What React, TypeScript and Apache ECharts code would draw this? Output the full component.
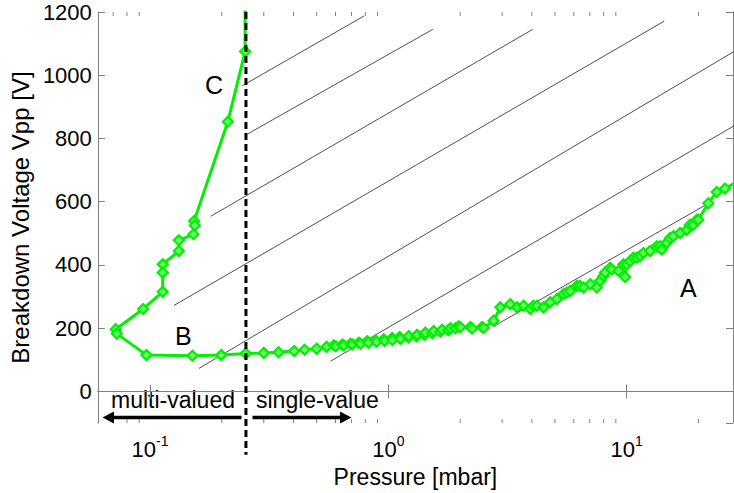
import React, { useEffect, useRef } from "react";
import * as echarts from "echarts";

// ---- data ----
// Measured breakdown curve (C branch -> B -> A), pressure in mbar, voltage in V
const pressure = [
  0.2505, 0.2505, 0.212, 0.153, 0.154, 0.152, 0.132, 0.132, 0.113, 0.113, 0.113,
  0.0935, 0.0718, 0.0725, 0.0966, 0.1506, 0.199, 0.252, 0.3, 0.346, 0.402,
  0.445, 0.5, 0.55, 0.59, 0.602, 0.64, 0.65, 0.693, 0.705, 0.751, 0.764,
  0.815, 0.825, 0.883, 0.891, 0.956, 0.963, 1.037, 1.04, 1.115, 1.123,
  1.213, 1.217, 1.311, 1.32, 1.416, 1.43, 1.53, 1.549, 1.652, 1.68, 1.785,
  1.82, 1.91, 1.97, 2.004, 2.207, 2.244, 2.47, 2.509, 2.764, 2.948, 3.246,
  3.464, 3.691, 3.937, 4.06, 4.201, 4.477, 4.775, 5.094, 5.43, 5.61, 5.79,
  6.18, 6.36, 6.59, 7.03, 7.49, 7.74, 7.99, 8.12, 8.52, 8.66, 9.23, 9.69,
  9.85, 10.01, 10.33, 10.67, 11.02, 11.38, 11.75, 12.53, 13.37, 13.8, 14.03,
  14.72, 15.2, 15.69, 16.74, 17.86, 18.44, 19.03, 19.67, 19.97, 21.99, 23.85,
  25.84, 28.0,
];
const voltage = [
  1300, 1075, 853, 539, 525, 497, 478, 444, 402, 376, 315,
  261, 197, 183, 115, 113, 115, 120, 122, 124, 128,
  132, 135, 141, 146, 143, 148, 146, 151, 149, 154, 151,
  159, 154, 162, 157, 165, 160, 169, 163, 172, 167,
  171, 175, 175, 179, 179, 186, 184, 191, 189, 195, 194,
  200, 200, 206, 203, 204, 199, 204, 201, 224, 266, 276,
  266, 271, 261, 271, 271, 266, 282, 292, 308, 313, 318,
  334, 334, 329, 339, 329, 350, 365, 376, 391, 386, 381, 402,
  362, 402, 412, 423, 423, 428, 438, 444, 459, 459, 449,
  470, 485, 491, 501, 511, 527, 527, 543, 543, 595, 631,
  642, 657,
];

// Diagonal guide lines: start (pressure, voltage) and end (pressure, voltage)
const hatchStartP = [0.244, 0.256, 0.1797, 0.126, 0.1604, 0.572, 2.765];
const hatchStartV = [967, 814, 554, 272, 73, 96, 206];
const hatchEndP = [0.789, 1.535, 4.03, 14.36, 28.2, 28.2, 22.03];
const hatchEndV = [1187, 1145, 1145, 1171, 1075, 840, 595];

// Vertical boundary between multi-valued and single-valued regions
const boundaryP = 0.2525;
const boundaryV = [1200, -200];

// Axis ranges and ticks
const X_MIN = 0.06037;
const X_MAX = 27.92;
const Y_MIN = -100;
const Y_MAX = 1200;
const minorTicks = [
  0.07, 0.08, 0.09, 0.2, 0.3, 0.4, 0.5, 0.6, 0.7, 0.8, 0.9,
  2, 3, 4, 5, 6, 7, 8, 9, 20,
];

const FONT = "'Liberation Sans', Arial, Helvetica, sans-serif";
const AXIS_GRAY = "#808080";

export default function App() {
  const ref = useRef<HTMLDivElement>(null);

  useEffect(() => {
    if (!ref.current) return;
    const chart = echarts.init(ref.current, undefined, { renderer: "svg" });

    const mainData = pressure.map((p, i) => [p, voltage[i]]);

    const hatchSeries = hatchStartP.map((p, i) => ({
      type: "line",
      xAxisIndex: 0,
      yAxisIndex: 0,
      data: [
        [p, hatchStartV[i]],
        [hatchEndP[i], hatchEndV[i]],
      ],
      symbol: "none",
      silent: true,
      clip: true,
      lineStyle: { color: "#222", width: 0.8 },
      z: 2,
    }));

    const xTickBase = {
      type: "log",
      logBase: 10,
      min: X_MIN,
      max: X_MAX,
      splitLine: { show: false },
      axisLine: { show: true, lineStyle: { color: AXIS_GRAY, width: 1 } },
      axisTick: { show: true, inside: true, length: 7, lineStyle: { color: AXIS_GRAY, width: 1 } },
      minorTick: { show: false },
    };
    const yBase = {
      type: "value",
      min: Y_MIN,
      max: Y_MAX,
      splitNumber: 6,
      minInterval: 200,
      maxInterval: 200,
      splitLine: { show: false },
      axisLine: { show: true, lineStyle: { color: AXIS_GRAY, width: 1 } },
      axisTick: { show: true, inside: true, length: 7, lineStyle: { color: AXIS_GRAY, width: 1 } },
    };

    const option = {
      animation: false,
      backgroundColor: "#fff",
      textStyle: { fontFamily: FONT },
      grid: { left: 97, right: 1, top: 12, bottom: 66, containLabel: false },
      xAxis: [
        {
          ...xTickBase,
          position: "bottom",
          name: "Pressure [mbar]",
          nameLocation: "middle",
          nameGap: 28,
          nameTextStyle: { fontSize: 23, color: "#000", fontFamily: FONT },
          axisLabel: {
            show: true,
            margin: 11,
            fontSize: 22,
            showMinLabel: false,
            showMaxLabel: false,
            formatter: (v: number) => `{b|10}{s|${Math.round(Math.log10(v))}}`,
            rich: {
              b: { fontSize: 22, lineHeight: 30, color: "#000", fontFamily: FONT },
              s: { fontSize: 14, lineHeight: 14, verticalAlign: "top", color: "#000", fontFamily: FONT },
            },
          },
        },
        {
          ...xTickBase,
          position: "top",
          axisLabel: { show: false },
        },
      ],
      yAxis: [
        {
          ...yBase,
          position: "left",
          name: "Breakdown Voltage Vpp [V]",
          nameLocation: "middle",
          nameGap: 53,
          nameRotate: 90,
          nameTextStyle: { fontSize: 24, color: "#000", fontFamily: FONT },
          axisLabel: {
            show: true,
            margin: 6,
            showMinLabel: false,
            fontSize: 22,
            color: "#000",
            fontFamily: FONT,
            formatter: (v: number) => String(v),
          },
        },
        {
          ...yBase,
          position: "right",
          axisLabel: { show: false },
        },
      ],
      series: [
        ...hatchSeries,
        {
          type: "custom",
          xAxisIndex: 0,
          yAxisIndex: 0,
          silent: true,
          clip: false,
          z: 5,
          data: minorTicks.map((v) => [v, Y_MIN]),
          renderItem: (params: any, api: any) => {
            const x = api.coord([api.value(0), Y_MIN])[0];
            const cs = params.coordSys;
            const bottom = cs.y + cs.height;
            const style = { stroke: AXIS_GRAY, lineWidth: 1 };
            return {
              type: "group",
              children: [
                { type: "line", shape: { x1: x, y1: bottom, x2: x, y2: bottom - 4 }, style },
                { type: "line", shape: { x1: x, y1: cs.y, x2: x, y2: cs.y + 4 }, style },
              ],
            };
          },
        },
        {
          type: "line",
          xAxisIndex: 0,
          yAxisIndex: 0,
          data: mainData,
          clip: true,
          symbol: "diamond",
          symbolSize: 10,
          lineStyle: { color: "#00f000", width: 3 },
          itemStyle: { color: "#6cff6c", borderColor: "#00f000", borderWidth: 2.2 },
          z: 4,
        },
        {
          type: "line",
          xAxisIndex: 0,
          yAxisIndex: 0,
          data: boundaryV.map((v) => [boundaryP, v]),
          clip: false,
          symbol: "none",
          silent: true,
          lineStyle: { color: "#000", width: 3, type: [7, 4] },
          z: 6,
        },
      ],
      graphic: [
        { type: "text", left: 205, top: 72, style: { text: "C", fontSize: 25, fill: "#000", fontFamily: FONT } },
        { type: "text", left: 175, top: 323, style: { text: "B", fontSize: 25, fill: "#000", fontFamily: FONT } },
        { type: "text", left: 680, top: 275, style: { text: "A", fontSize: 25, fill: "#000", fontFamily: FONT } },
        { type: "text", left: 111, top: 388, style: { text: "multi-valued", fontSize: 23, fill: "#000", fontFamily: FONT } },
        { type: "text", left: 256, top: 388, style: { text: "single-value", fontSize: 23, fill: "#000", fontFamily: FONT } },
        {
          type: "line",
          shape: { x1: 112, y1: 417.5, x2: 241.5, y2: 417.5 },
          style: { stroke: "#000", lineWidth: 3.5 },
          z: 10,
        },
        {
          type: "polygon",
          shape: { points: [[102.5, 417.5], [114, 411.5], [114, 423.5]] },
          style: { fill: "#000" },
          z: 10,
        },
        {
          type: "line",
          shape: { x1: 252.5, y1: 417.5, x2: 341, y2: 417.5 },
          style: { stroke: "#000", lineWidth: 3.5 },
          z: 10,
        },
        {
          type: "polygon",
          shape: { points: [[351.5, 417.5], [340, 411.5], [340, 423.5]] },
          style: { fill: "#000" },
          z: 10,
        },
      ],
    };

    chart.setOption(option as any);
    return () => chart.dispose();
  }, []);

  return (
    <div
      ref={ref}
      style={{ position: "absolute", left: 0, top: 0, width: 734, height: 493, background: "#fff" }}
    />
  );
}
